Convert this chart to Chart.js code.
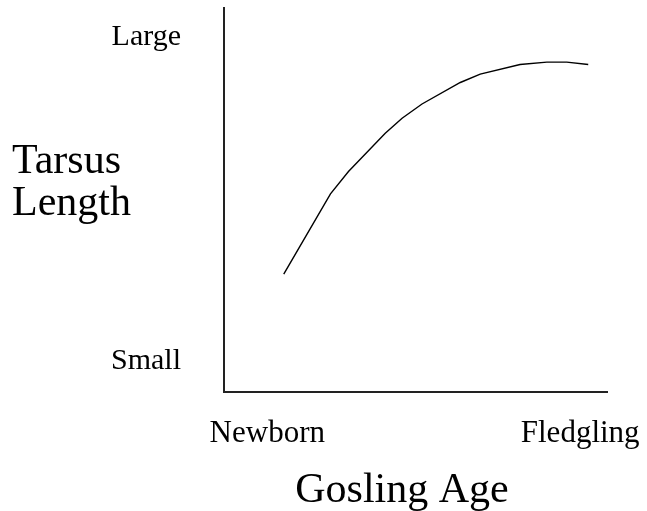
<!DOCTYPE html>
<html>
<head>
  <title>Tarsus Length vs Gosling Age</title>
  <script src="https://cdn.jsdelivr.net/npm/chart.js"></script>
  <style>
    body { margin: 0; background: #fff; }
    #wrap { width: 647px; height: 511px; position: relative; }
  </style>
</head>
<body>
  <div id="wrap"><canvas id="growthChart"></canvas></div>

  <script>
    // curve (age 0-100, length 0-100)
    const ages = [15.6, 27.8, 32.5, 42.1, 46.5, 51.7, 61.7, 66.9, 77.3, 84.3, 89.5, 95.1];
    const lengths = [30.7, 51.6, 57.4, 67.4, 71.3, 75.0, 80.6, 82.8, 85.3, 85.9, 85.9, 85.3];

    // tick positions and labels
    const xTickValues = [11.3, 93.0];
    const xTickLabels = ['Newborn', 'Fledgling'];
    const yTickValues = [8.1, 92.4];
    const yTickLabels = ['Small', 'Large'];

    const xTitle = 'Gosling Age';
    const yTitleLines = ['Tarsus', 'Length'];

    const serif = '"Liberation Serif", "Times New Roman", serif';

    // axis titles sit off-centre and the y one is flat, so draw them by hand
    const axisTitles = {
      id: 'axisTitles',
      afterDraw(chart) {
        const ctx = chart.ctx;
        ctx.save();
        ctx.font = '42px ' + serif;
        ctx.fillStyle = '#000';
        ctx.textBaseline = 'alphabetic';
        ctx.textAlign = 'left';
        yTitleLines.forEach((line, i) => {
          ctx.fillText(line, 12, 173 + i * 41.5);
        });
        ctx.textAlign = 'center';
        ctx.fillText(xTitle, 402, 502);
        ctx.restore();
      }
    };

    new Chart(document.getElementById('growthChart'), {
      type: 'line',
      data: {
        datasets: [{
          data: ages.map((a, i) => ({ x: a, y: lengths[i] })),
          borderColor: '#000',
          borderWidth: 1.4,
          pointRadius: 0,
          tension: 0,
          fill: false
        }]
      },
      options: {
        responsive: true,
        maintainAspectRatio: false,
        animation: false,
        layout: { padding: { top: 8, right: 40, left: 0, bottom: 0 } },
        plugins: {
          legend: { display: false },
          tooltip: { enabled: false }
        },
        scales: {
          x: {
            type: 'linear',
            min: 0,
            max: 100,
            grid: { display: false, drawTicks: false },
            border: { display: true, color: '#222', width: 2 },
            afterFit: s => {
              s.height = 119;
              s.paddingLeft = 0;
              s.paddingRight = 0;
            },
            afterBuildTicks: s => { s.ticks = xTickValues.map(v => ({ value: v })); },
            ticks: {
              autoSkip: false,
              maxRotation: 0,
              padding: 23,
              color: '#000',
              font: { family: serif, size: 31 },
              callback: (v, i) => xTickLabels[i]
            }
          },
          y: {
            min: 0,
            max: 100,
            grid: { display: false, drawTicks: false },
            border: { display: true, color: '#222', width: 2 },
            afterFit: s => {
              s.width = 224;
              s.paddingTop = 0;
              s.paddingBottom = 0;
            },
            afterBuildTicks: s => { s.ticks = yTickValues.map(v => ({ value: v })); },
            ticks: {
              autoSkip: false,
              padding: 43,
              color: '#000',
              font: { family: serif, size: 30 },
              callback: (v, i) => yTickLabels[i]
            }
          }
        }
      },
      plugins: [axisTitles]
    });
  </script>
</body>
</html>
